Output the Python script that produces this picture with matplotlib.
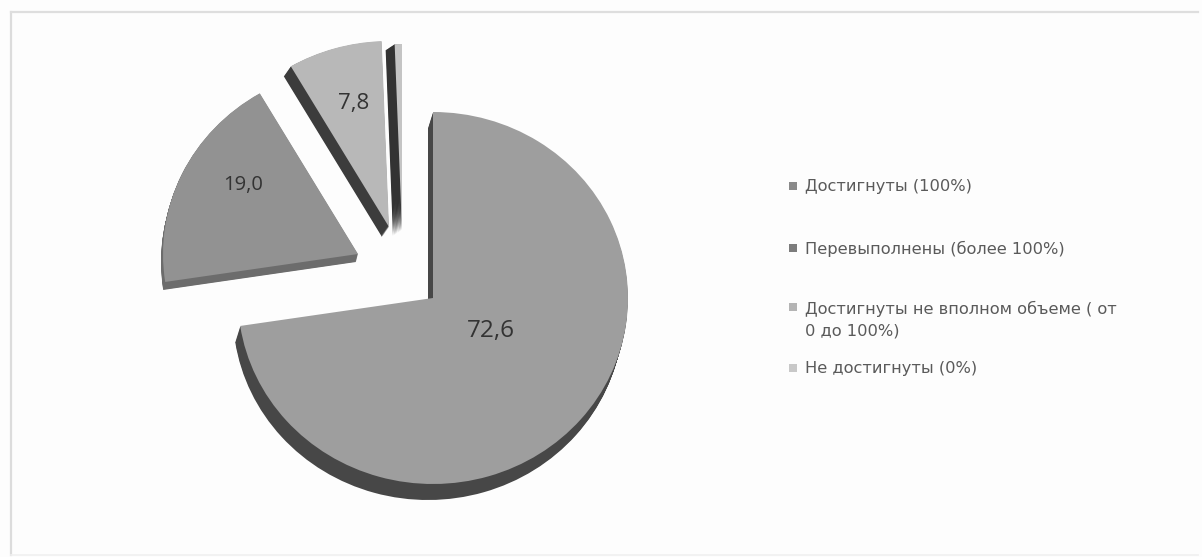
import matplotlib
matplotlib.use("Agg")
import matplotlib.pyplot as plt

# данные диаграммы
categories = ["Достигнуты (100%)", "Перевыполнены (более 100%)",
              "Достигнуты не вполном объеме ( от\n0 до 100%)", "Не достигнуты (0%)"]
values = [72.6, 19.0, 7.8, 0.6]
value_labels = ["72,6", "19,0", "7,8"]

# оформление
top_colors = ["#9e9e9e", "#929292", "#b8b8b8", "#c4c4c4"]
wall_colors = ["#474747", "#6c6c6c", "#3c3c3c", "#333333"]
marker_colors = ["#8a8a8a", "#7c7c7c", "#b4b4b4", "#c8c8c8"]

W, H = 1202, 557
CX, CY = 433, 298   # центр большого сектора, px
RX, RY = 195, 186   # радиусы эллипса, px

# смещения секторов и боковых стенок, px
slice_shift = [(0, 0), (-75, -44), (-44, -71), (-31, -68)]
wall_shift = [(-5, 16), (-2, 8), (-7, 10), (-9, 6)]
WALL_STEPS = 16

label_pos = [(491, 331), (243, 185), (354, 104)]
label_size = [17.5, 14.5, 16]
legend_y = [186, 248, 307, 368]
legend_text_y = [187, 249, 320, 369]

fig = plt.figure(figsize=(W / 100, H / 100), dpi=100, facecolor="#fdfdfd")

# фон в пикселях: рамка и легенда
bg = fig.add_axes([0, 0, 1, 1])
bg.set_xlim(0, W)
bg.set_ylim(H, 0)
bg.axis("off")
bg.plot([11, 11], [12, 555], color="#dcdcdc", lw=1.6)
bg.plot([11, 1198], [12, 12], color="#dedede", lw=1.6)
bg.plot([11, 1198], [555, 555], color="#f0f0f0", lw=1.2)

for y, ty, name, col in zip(legend_y, legend_text_y, categories, marker_colors):
    bg.scatter([793], [y], marker="s", s=30, color=col, linewidths=0)
    bg.text(805, ty, name, family="DejaVu Sans", fontsize=11.7, color="#5a5a5a",
            va="center", ha="left", linespacing=1.55)

# сам пирог: стенки вытягиваем слоями, сверху кладем верхние грани
ax = fig.add_axes([0, 0, 1, 1])
ax.patch.set_alpha(0)


def draw_pie(colors, shifts, extra, z):
    wedges, _ = ax.pie(values, startangle=90, counterclock=False, colors=colors,
                       wedgeprops={"linewidth": 0})
    for w, (dx, dy), (ex, ey) in zip(wedges, shifts, extra):
        w.set_center(((dx + ex) / RX, -(dy + ey) / RY))
        w.set_zorder(z)


for step in range(1, WALL_STEPS + 1):
    k = step / WALL_STEPS
    draw_pie(wall_colors, slice_shift, [(ex * k, ey * k) for ex, ey in wall_shift], 1)
draw_pie(top_colors, slice_shift, [(0, 0)] * 4, 2)

ax.set_aspect("auto")
ax.set_xlim(-CX / RX, (W - CX) / RX)
ax.set_ylim(-(H - CY) / RY, CY / RY)
ax.axis("off")

for txt, (x, y), fs in zip(value_labels, label_pos, label_size):
    ax.text((x - CX) / RX, -(y - CY) / RY, txt, family="Open Sans", fontsize=fs,
            color="#333333", ha="center", va="center", zorder=3)

fig.savefig("out.png", dpi=100, facecolor=fig.get_facecolor())
